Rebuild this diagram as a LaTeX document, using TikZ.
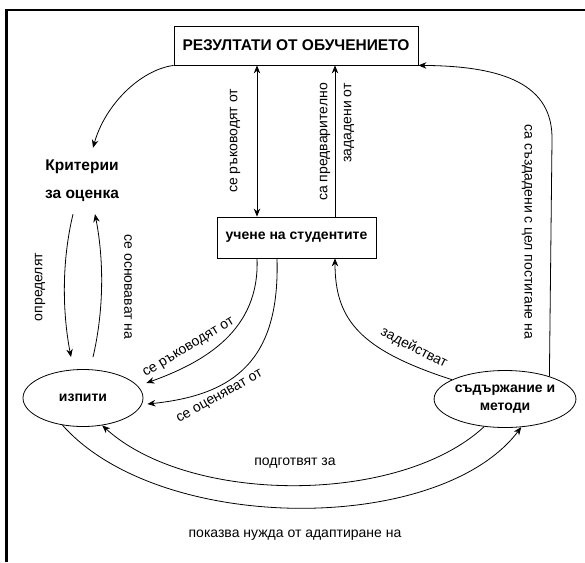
\documentclass[tikz,border=0pt]{standalone}
\usepackage{fontspec}
\setmainfont{Liberation Sans}
\usetikzlibrary{shapes.geometric,arrows.meta}
\begin{document}
\begin{tikzpicture}[x=1pt,y=-1pt,>={Stealth[length=8pt,width=6.5pt]},
		every node/.style={font=\fontsize{14}{16.8}\selectfont},
		box/.style={draw,line width=.8pt,inner sep=0pt,font=\fontsize{14}{16.8}\selectfont\bfseries},
		oval/.style={draw,ellipse,line width=.8pt,minimum width=120pt,minimum height=57pt,inner sep=0pt,align=center,font=\fontsize{14}{18}\selectfont\bfseries},
		link/.style={line width=.8pt,->},
		lbl/.style={inner sep=0pt}]
		\useasboundingbox (0,0) rectangle (585,562);
		\draw [line width=2.2pt] (6.5,562) -- (6.5,10) -- (585,10);
		\node [box,minimum width=244pt,minimum height=39pt,font=\fontsize{15.5}{18}\selectfont\bfseries] (res) at (296,45.5) {РЕЗУЛТАТИ ОТ ОБУЧЕНИЕТО};
		\node [box,minimum width=159pt,minimum height=41pt] (learn) at (296.5,237.5) {учене на студентите};
		\node [align=center,minimum height=66pt,inner sep=0pt,font=\fontsize{15.5}{18}\selectfont\bfseries] (crit) at (82,181) {Критерии\\[10pt]за оценка};
		\node [oval] (exam) at (83,398) {изпити};
		\node [oval] (cont) at (505,399) {съдържание и\\методи};
		% points on the student box
		\coordinate (lwin) at ([xshift=-39.5pt]learn.north);
		\coordinate (lset) at ([xshift=38.5pt]learn.north);
		\coordinate (lsw) at ([xshift=-39.5pt]learn.south);
		\coordinate (lss) at ([xshift=-19.5pt]learn.south);
		\coordinate (lse) at ([xshift=38.5pt]learn.south);
		\draw [link] (res.south west) .. controls (140,70) and (105,105) .. ([xshift=11pt]crit.north);
		\draw [link,<->] (lwin) -- (lwin |- res.south);
		\draw [link] (lset) -- (lset |- res.south);
		\node [lbl,rotate=90] (guide) at (235,141) {се ръководят от};
		\node [lbl,rotate=90,align=right] (preset) at (337,142) {са предварително\\[7pt]зададени от};
		\draw [link] (lsw) .. controls (260,330) and (205,362) .. ([xshift=3pt,yshift=15pt]exam.east);
		\draw [link] (lss) .. controls (280,360) and (235,395) .. ([xshift=4pt,yshift=-6pt]exam.east);
		\node [lbl,rotate=31] (guidex) at (189,348) {се ръководят от};
		\node [lbl,rotate=29] (assess) at (220,397) {се оценяват от};
		\draw [link] (cont.160) .. controls (360,350) and (335,320) .. (lse);
		\node [lbl,rotate=-27] (engage) at (414,348) {задействат};
		\draw [link] (cont.27) -- (552,140) .. controls (553,85) and (505,66) .. (res.south east);
		\node [lbl,rotate=-90] (aim) at (527,232) {са създадени с цел постигане на};
		\draw [link] ([xshift=-9pt]crit.south) .. controls (62,260) and (62,310) .. ([xshift=-12pt,yshift=12pt]exam.north);
		\draw [link] ([xshift=10pt,yshift=12pt]exam.north) .. controls (104,310) and (104,260) .. ([xshift=13pt]crit.south);
		\node [lbl,rotate=90] (define) at (40,287) {определят};
		\node [lbl,rotate=-90] (based) at (128,287) {се основават на};
		\draw [link] (cont.-127) .. controls (400,505) and (190,505) .. (exam.-55);
		\node [lbl] (prep) at (295,463) {подготвят за};
		\draw [link] (exam.-127) .. controls (160,535) and (440,535) .. (cont.-60);
		\node [lbl] (adapt) at (295,535) {показва нужда от адаптиране на};
	\end{tikzpicture}
\end{document}
